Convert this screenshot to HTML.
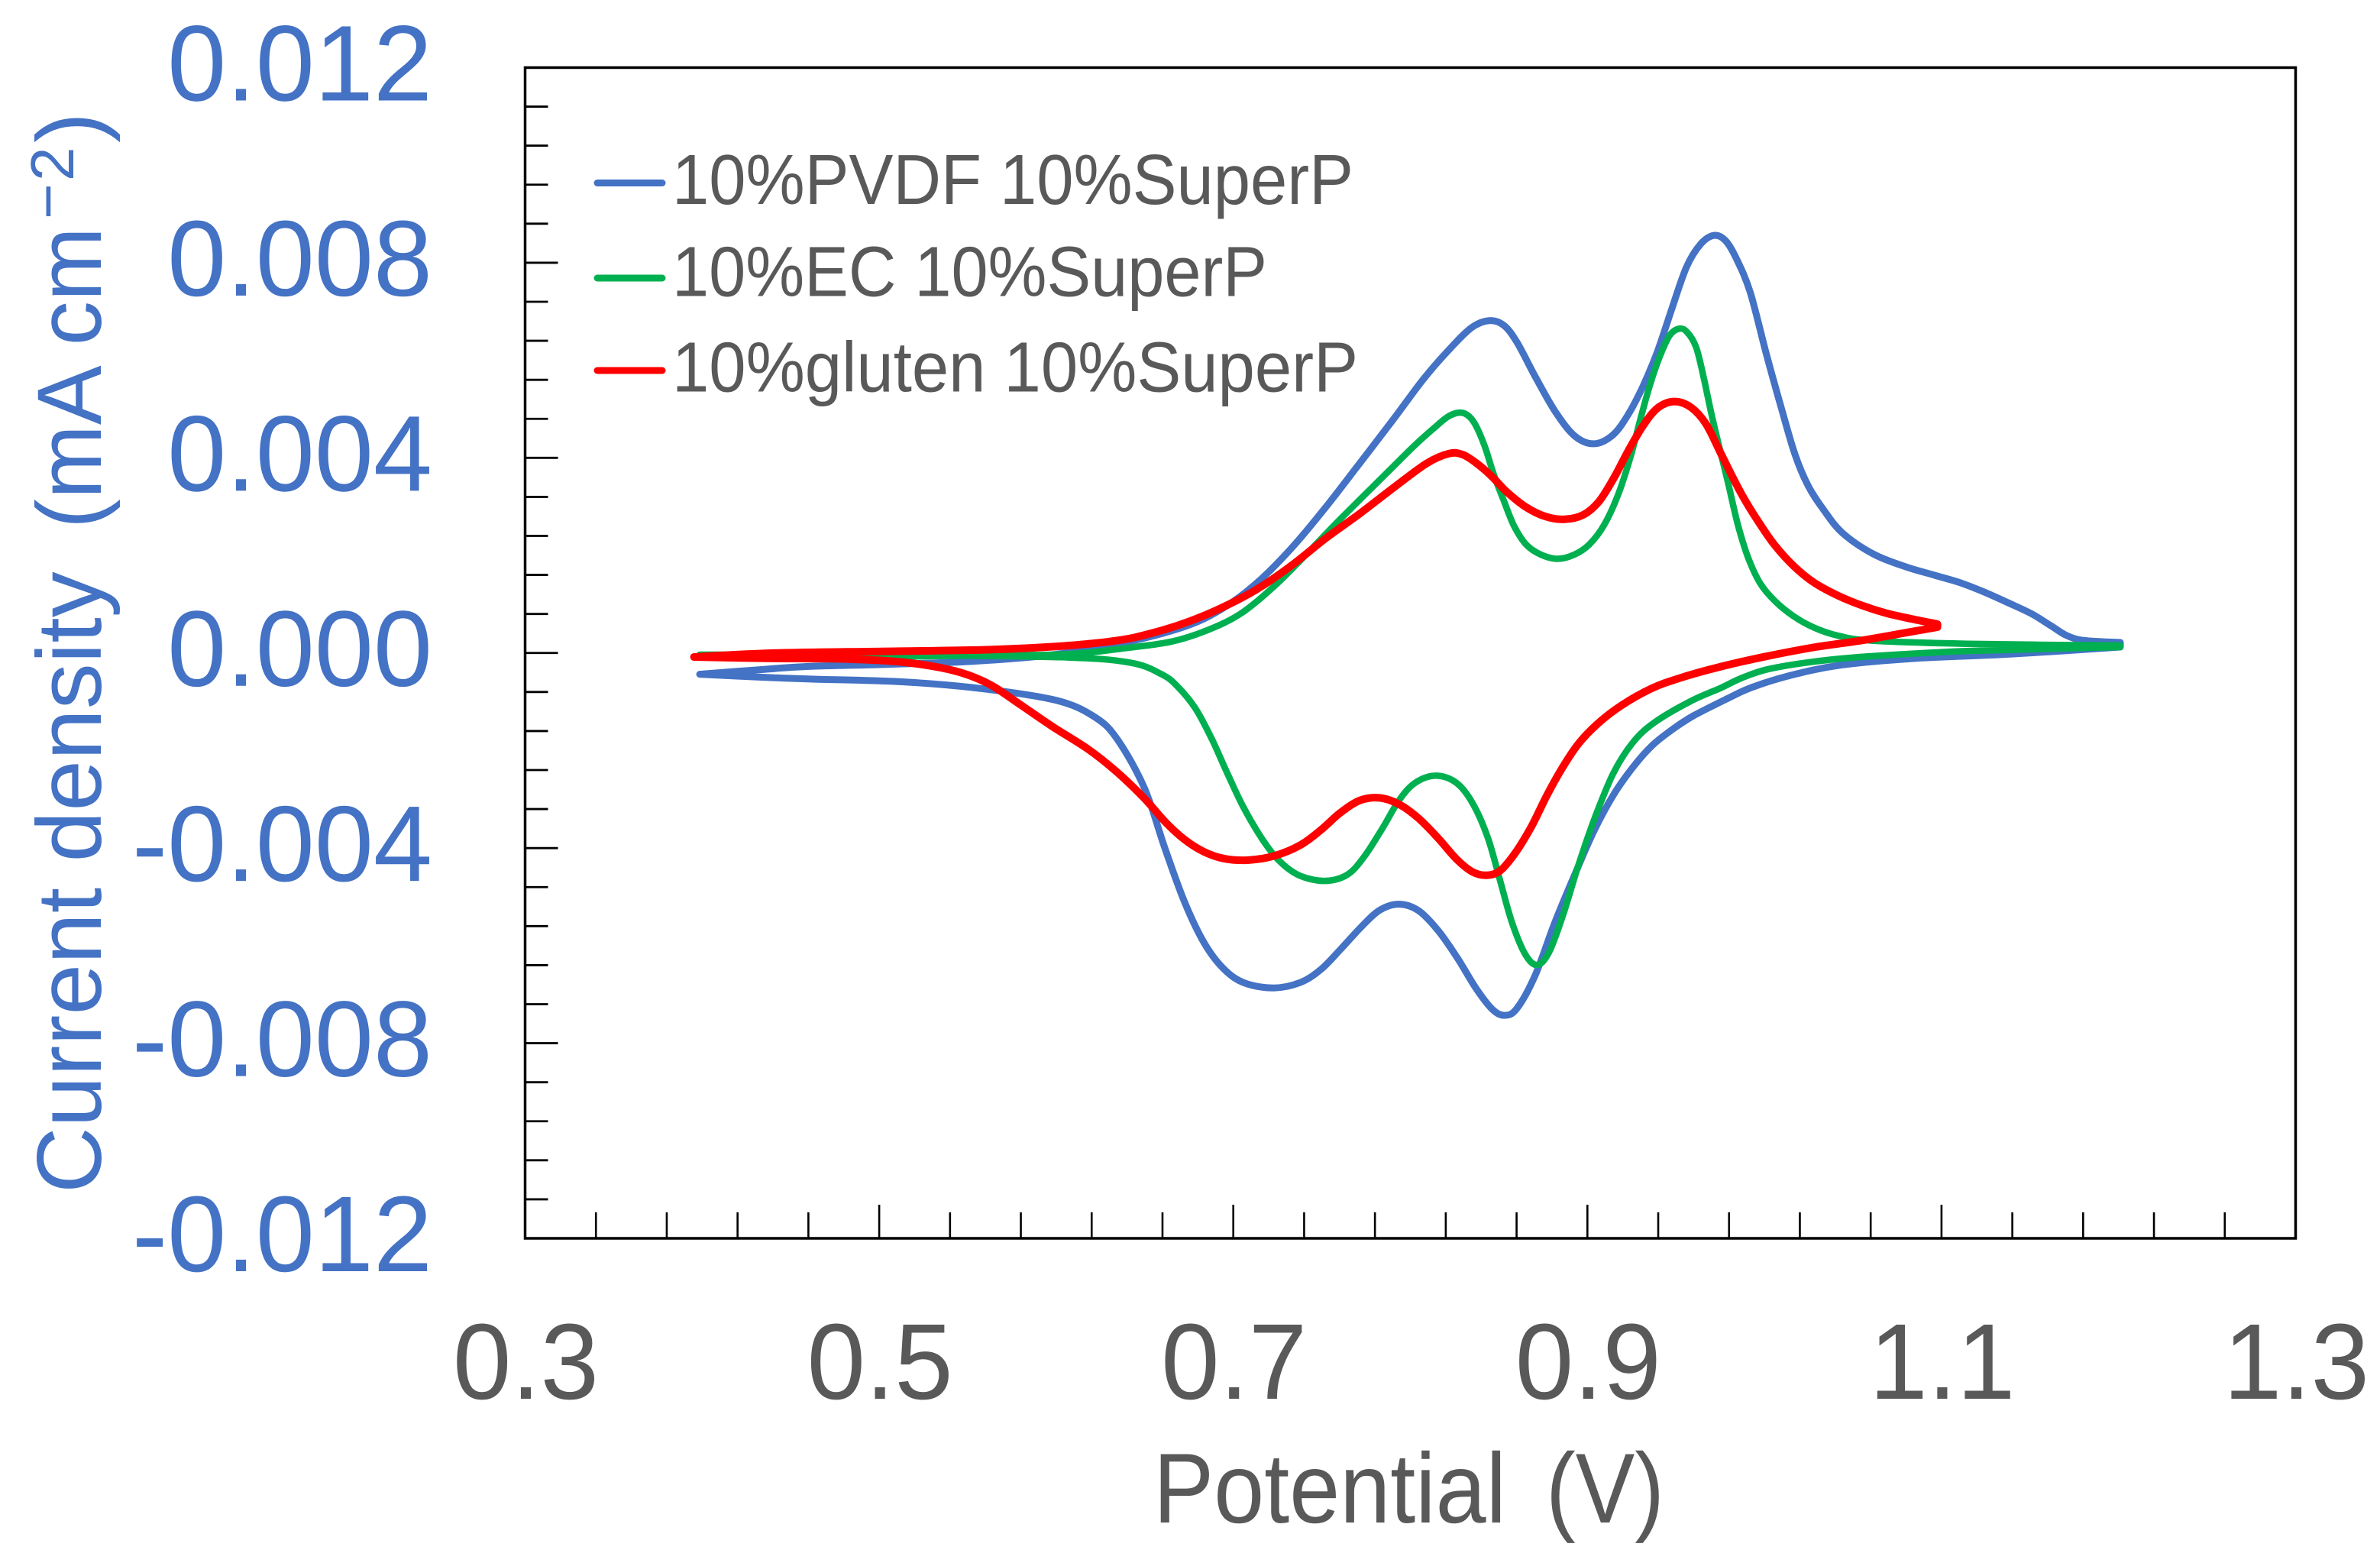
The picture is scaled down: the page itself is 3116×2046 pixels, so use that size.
<!DOCTYPE html>
<html lang="en">
<head>
<meta charset="utf-8">
<title>Cyclic voltammetry chart</title>
<style>
html,body{margin:0;padding:0;background:#fff;}
svg{display:block;font-family:"Liberation Sans",Arial,sans-serif;}
</style>
</head>
<body>
<svg id="chart" xmlns="http://www.w3.org/2000/svg" width="3116" height="2046" viewBox="0 0 3116 2046">
  <rect x="0" y="0" width="3116" height="2046" fill="#fff"/>
  <g id="ticks"></g>
  <g id="series"></g>
  <rect x="687.5" y="88.5" width="2318" height="1532.5" fill="none" stroke="#000" stroke-width="3.5"/>
  <g id="tick-labels"></g>

  <text transform="translate(132,0) rotate(-90)" font-size="120" fill="#4472C4"><tspan x="-1562" y="0">Current density</tspan><tspan x="-692" y="0" textLength="395" lengthAdjust="spacingAndGlyphs">(mA cm</tspan><tspan x="-287" y="-42" font-size="80">−</tspan><tspan x="-237" y="-36" font-size="80">2</tspan><tspan x="-187" y="0">)</tspan></text>
  <text font-size="130" fill="#595959"><tspan x="1510" y="1993" textLength="462" lengthAdjust="spacingAndGlyphs">Potential</tspan><tspan x="2024" y="1993" textLength="155" lengthAdjust="spacingAndGlyphs">(V)</tspan></text>

  <g>
    <line x1="782" y1="239.5" x2="867" y2="239.5" stroke="#4472C4" stroke-width="9" stroke-linecap="round"/>
    <text x="880" y="267" font-size="93" fill="#595959" textLength="892" lengthAdjust="spacingAndGlyphs">10%PVDF 10%SuperP</text>
    <line x1="782" y1="364" x2="867" y2="364" stroke="#00B050" stroke-width="9" stroke-linecap="round"/>
    <text x="880" y="387.5" font-size="93" fill="#595959" textLength="779" lengthAdjust="spacingAndGlyphs">10%EC 10%SuperP</text>
    <line x1="782" y1="485" x2="867" y2="485" stroke="#FF0000" stroke-width="9" stroke-linecap="round"/>
    <text x="880" y="512.5" font-size="93" fill="#595959" textLength="898" lengthAdjust="spacingAndGlyphs">10%gluten 10%SuperP</text>
  </g>
</svg>
<script>
// Axis labels
const xTickValues = [0.3, 0.5, 0.7, 0.9, 1.1, 1.3];
const xTickLabels = ["0.3", "0.5", "0.7", "0.9", "1.1", "1.3"];
const yTickValues = [12, 8, 4, 0, -4, -8, -12];
const yTickLabels = ["0.012", "0.008", "0.004", "0.000", "-0.004", "-0.008", "-0.012"];

// Series: potential (V) and current density (in 10^-3 mA cm^-2), as one closed CV loop each
const pvdfPotential = [0.3986,0.4275,0.4581,0.5021,0.5556,0.5981,0.6367,0.6751,0.6945,0.7135,0.7329,0.7522,0.7713,0.7907,0.8076,0.8212,0.8350,0.8447,0.8529,0.8598,0.8708,0.8818,0.8928,0.9038,0.9148,0.9230,0.9313,0.9396,0.9478,0.9560,0.9642,0.9717,0.9780,0.9836,0.9918,1.0013,1.0099,1.0172,1.0245,1.0332,1.0431,1.0616,1.0806,1.0962,1.1100,1.1238,1.1376,1.1514,1.1624,1.1706,1.1790,1.2010,
  1.2010,1.1376,1.0826,1.0414,1.0138,0.9918,0.9806,0.9585,0.9477,0.9365,0.9257,0.9145,0.9036,0.8925,0.8816,0.8705,0.8596,0.8530,0.8464,0.8376,0.8265,0.8156,0.8045,0.7936,0.7825,0.7716,0.7605,0.7496,0.7385,0.7230,0.7055,0.6945,0.6835,0.6725,0.6615,0.6505,0.6341,0.6232,0.6034,0.5572,0.5132,0.4581,0.4275,0.3986];
const pvdfCurrent = [-0.436,-0.358,-0.270,-0.239,-0.176,-0.051,0.184,0.544,0.904,1.421,2.134,2.978,3.886,4.796,5.640,6.198,6.715,6.840,6.746,6.417,5.640,4.929,4.406,4.245,4.444,4.867,5.446,6.160,7.069,7.967,8.422,8.594,8.484,8.140,7.482,6.073,4.976,4.037,3.410,2.940,2.455,2.001,1.750,1.593,1.453,1.257,1.030,0.803,0.544,0.348,0.247,0.215,
  0.121,-0.035,-0.106,-0.239,-0.458,-0.709,-0.908,-1.304,-1.570,-1.883,-2.330,-2.901,-3.633,-4.572,-5.501,-6.660,-7.365,-7.454,-7.333,-6.921,-6.237,-5.668,-5.244,-5.120,-5.244,-5.636,-6.080,-6.503,-6.770,-6.895,-6.785,-6.503,-5.980,-5.141,-4.044,-2.745,-1.706,-1.319,-0.959,-0.716,-0.579,-0.536,-0.489,-0.436];

const ecPotential = [0.3986,0.5021,0.5642,0.6078,0.6367,0.6656,0.6848,0.7040,0.7233,0.7426,0.7579,0.7907,0.8020,0.8130,0.8212,0.8273,0.8321,0.8363,0.8419,0.8472,0.8529,0.8584,0.8652,0.8736,0.8831,0.8928,0.9010,0.9094,0.9176,0.9245,0.9299,0.9353,0.9409,0.9465,0.9519,0.9560,0.9616,0.9657,0.9698,0.9739,0.9793,0.9849,0.9905,0.9974,1.0056,1.0166,1.0276,1.0414,1.0551,1.1100,1.2010,
  1.2010,1.1100,1.0552,1.0276,1.0000,0.9862,0.9762,0.9585,0.9365,0.9257,0.9145,0.9036,0.8947,0.8861,0.8783,0.8717,0.8651,0.8574,0.8507,0.8442,0.8354,0.8265,0.8145,0.8024,0.7936,0.7847,0.7738,0.7648,0.7518,0.7364,0.7254,0.7165,0.7055,0.6967,0.6879,0.6790,0.6682,0.6607,0.6431,0.6121,0.5021,0.3986];
const ecCurrent = [-0.067,-0.082,-0.042,-0.042,0.090,0.215,0.450,0.770,1.359,2.070,2.658,3.833,4.245,4.600,4.860,4.939,4.898,4.732,4.276,3.629,3.113,2.588,2.200,2.004,1.907,2.004,2.200,2.588,3.238,4.021,4.796,5.509,6.095,6.549,6.668,6.614,6.307,5.650,4.929,4.303,3.520,2.611,1.954,1.406,1.061,0.738,0.513,0.348,0.251,0.184,0.153,
  0.121,0.043,-0.073,-0.171,-0.333,-0.521,-0.709,-0.970,-1.438,-1.805,-2.431,-3.418,-4.358,-5.407,-6.190,-6.452,-6.237,-5.564,-4.671,-3.786,-3.058,-2.635,-2.478,-2.635,-2.995,-3.575,-4.201,-4.577,-4.702,-4.577,-4.264,-3.841,-3.167,-2.478,-1.753,-1.127,-0.662,-0.442,-0.176,-0.082,-0.035,-0.035];

const glutenPotential = [0.3954,0.4361,0.5021,0.5595,0.5981,0.6367,0.6559,0.6751,0.6945,0.7135,0.7329,0.7522,0.7713,0.7907,0.8100,0.8226,0.8295,0.8378,0.8460,0.8541,0.8652,0.8761,0.8872,0.8982,0.9065,0.9148,0.9230,0.9313,0.9396,0.9491,0.9588,0.9670,0.9754,0.9836,0.9892,0.9974,1.0056,1.0166,1.0276,1.0414,1.0551,1.0688,1.0826,1.0977,
  1.0977,1.0826,1.0551,1.0276,1.0000,0.9724,0.9504,0.9365,0.9189,0.9058,0.8947,0.8861,0.8772,0.8684,0.8596,0.8507,0.8431,0.8354,0.8265,0.8156,0.8045,0.7936,0.7825,0.7716,0.7605,0.7496,0.7385,0.7230,0.7078,0.6945,0.6835,0.6725,0.6615,0.6505,0.6341,0.6188,0.5968,0.5792,0.5638,0.5504,0.5352,0.5132,0.4801,0.4361,0.3954];
const glutenCurrent = [-0.082,0.002,0.032,0.059,0.121,0.251,0.419,0.638,0.936,1.296,1.781,2.361,2.846,3.395,3.927,4.115,4.084,3.886,3.629,3.301,2.978,2.784,2.721,2.815,3.075,3.567,4.146,4.666,5.055,5.186,5.055,4.732,4.084,3.488,3.113,2.642,2.204,1.766,1.437,1.171,0.967,0.810,0.701,0.591,
  0.529,0.435,0.251,0.121,-0.074,-0.301,-0.529,-0.709,-1.069,-1.438,-1.852,-2.330,-2.901,-3.575,-4.098,-4.499,-4.572,-4.514,-4.259,-3.786,-3.371,-3.083,-2.948,-2.995,-3.261,-3.633,-3.946,-4.179,-4.261,-4.228,-4.091,-3.841,-3.476,-2.995,-2.425,-1.977,-1.492,-1.047,-0.657,-0.442,-0.298,-0.176,-0.114,-0.114,-0.082];

const SVG_NS = "http://www.w3.org/2000/svg";
const plot = { left: 687.5, right: 3005.5, top: 88.5, bottom: 1621 };
const xMin = 0.3, xMax = 1.3, yMin = -12, yMax = 12;

function xScale(v) { return plot.left + (v - xMin) / (xMax - xMin) * (plot.right - plot.left); }
function yScale(v) { return plot.bottom - (v - yMin) / (yMax - yMin) * (plot.bottom - plot.top); }

// Light hand-tremor removal so read-off points do not show as kinks; ends stay pinned
function relax(pts) {
  return pts.map((p, i) => {
    if (i === 0 || i === pts.length - 1) return p;
    const a = pts[i - 1], b = pts[i + 1];
    return [0.12 * a[0] + 0.76 * p[0] + 0.12 * b[0], 0.12 * a[1] + 0.76 * p[1] + 0.12 * b[1]];
  });
}

function branchPath(pts, move) {
  let d = (move ? "M" : "L") + pts[0][0].toFixed(1) + " " + pts[0][1].toFixed(1);
  for (let i = 0; i < pts.length - 1; i++) {
    const p0 = pts[Math.max(i - 1, 0)], p1 = pts[i], p2 = pts[i + 1], p3 = pts[Math.min(i + 2, pts.length - 1)];
    const c1x = p1[0] + (p2[0] - p0[0]) / 6, c1y = p1[1] + (p2[1] - p0[1]) / 6;
    const c2x = p2[0] - (p3[0] - p1[0]) / 6, c2y = p2[1] - (p3[1] - p1[1]) / 6;
    d += "C" + c1x.toFixed(1) + " " + c1y.toFixed(1) + " " + c2x.toFixed(1) + " " + c2y.toFixed(1) + " " + p2[0].toFixed(1) + " " + p2[1].toFixed(1);
  }
  return d;
}

// The loop turns sharply at its highest potential, so each sweep is smoothed separately
function loopPath(xs, ys) {
  const pts = xs.map((v, i) => [xScale(v), yScale(ys[i])]);
  const turn = xs.indexOf(Math.max.apply(null, xs));
  return branchPath(relax(pts.slice(0, turn + 1)), true) + branchPath(relax(pts.slice(turn + 1)), false);
}

const tickGroup = document.getElementById("ticks");
const labelGroup = document.getElementById("tick-labels");
const seriesGroup = document.getElementById("series");

// Minor and major ticks, inside the frame
for (let k = 0; k <= 25; k++) {
  const v = xMin + k * 0.04;
  const isMajor = k % 5 === 0;
  const t = document.createElementNS(SVG_NS, "line");
  
  
  t.setAttribute("x1", xScale(v));
  t.setAttribute("x2", xScale(v));
  t.setAttribute("y1", plot.bottom);
  t.setAttribute("y2", plot.bottom - (isMajor ? 44 : 34));
  t.setAttribute("stroke", "#000");
  t.setAttribute("stroke-width", "2.6");
  tickGroup.appendChild(t);
}
for (let k = 0; k <= 30; k++) {
  const v = yMin + k * 0.8;
  const isMajor = k % 5 === 0;
  const t = document.createElementNS(SVG_NS, "line");
  
  
  t.setAttribute("y1", yScale(v));
  t.setAttribute("y2", yScale(v));
  t.setAttribute("x1", plot.left);
  t.setAttribute("x2", plot.left + (isMajor ? 43 : 30));
  t.setAttribute("stroke", "#000");
  t.setAttribute("stroke-width", "2.8");
  tickGroup.appendChild(t);
}

// Tick labels
xTickValues.forEach((v, i) => {
  const t = document.createElementNS(SVG_NS, "text");
  
  
  t.setAttribute("transform", "translate(" + (xScale(v) + 1) + ",1831) scale(0.975,1)");
  t.setAttribute("text-anchor", "middle");
  t.setAttribute("font-size", "141");
  t.setAttribute("fill", "#595959");
  t.textContent = xTickLabels[i];
  labelGroup.appendChild(t);
});
yTickValues.forEach((v, i) => {
  const t = document.createElementNS(SVG_NS, "text");
  
  
  t.setAttribute("transform", "translate(566," + (yScale(v) + 43) + ") scale(0.983,1)");
  t.setAttribute("text-anchor", "end");
  t.setAttribute("font-size", "141");
  t.setAttribute("fill", "#4472C4");
  t.textContent = yTickLabels[i];
  labelGroup.appendChild(t);
});

// Curves
const pvdfLine = document.createElementNS(SVG_NS, "path");


pvdfLine.setAttribute("d", loopPath(pvdfPotential, pvdfCurrent));
pvdfLine.setAttribute("fill", "none");
pvdfLine.setAttribute("stroke", "#4472C4");
pvdfLine.setAttribute("stroke-width", "9");
pvdfLine.setAttribute("stroke-linejoin", "round");
pvdfLine.setAttribute("stroke-linecap", "round");
seriesGroup.appendChild(pvdfLine);

const ecLine = document.createElementNS(SVG_NS, "path");


ecLine.setAttribute("d", loopPath(ecPotential, ecCurrent));
ecLine.setAttribute("fill", "none");
ecLine.setAttribute("stroke", "#00B050");
ecLine.setAttribute("stroke-width", "8.5");
ecLine.setAttribute("stroke-linejoin", "round");
ecLine.setAttribute("stroke-linecap", "round");
seriesGroup.appendChild(ecLine);

const glutenLine = document.createElementNS(SVG_NS, "path");


glutenLine.setAttribute("d", loopPath(glutenPotential, glutenCurrent));
glutenLine.setAttribute("fill", "none");
glutenLine.setAttribute("stroke", "#FF0000");
glutenLine.setAttribute("stroke-width", "10");
glutenLine.setAttribute("stroke-linejoin", "round");
glutenLine.setAttribute("stroke-linecap", "round");
seriesGroup.appendChild(glutenLine);
</script>
</body>
</html>
